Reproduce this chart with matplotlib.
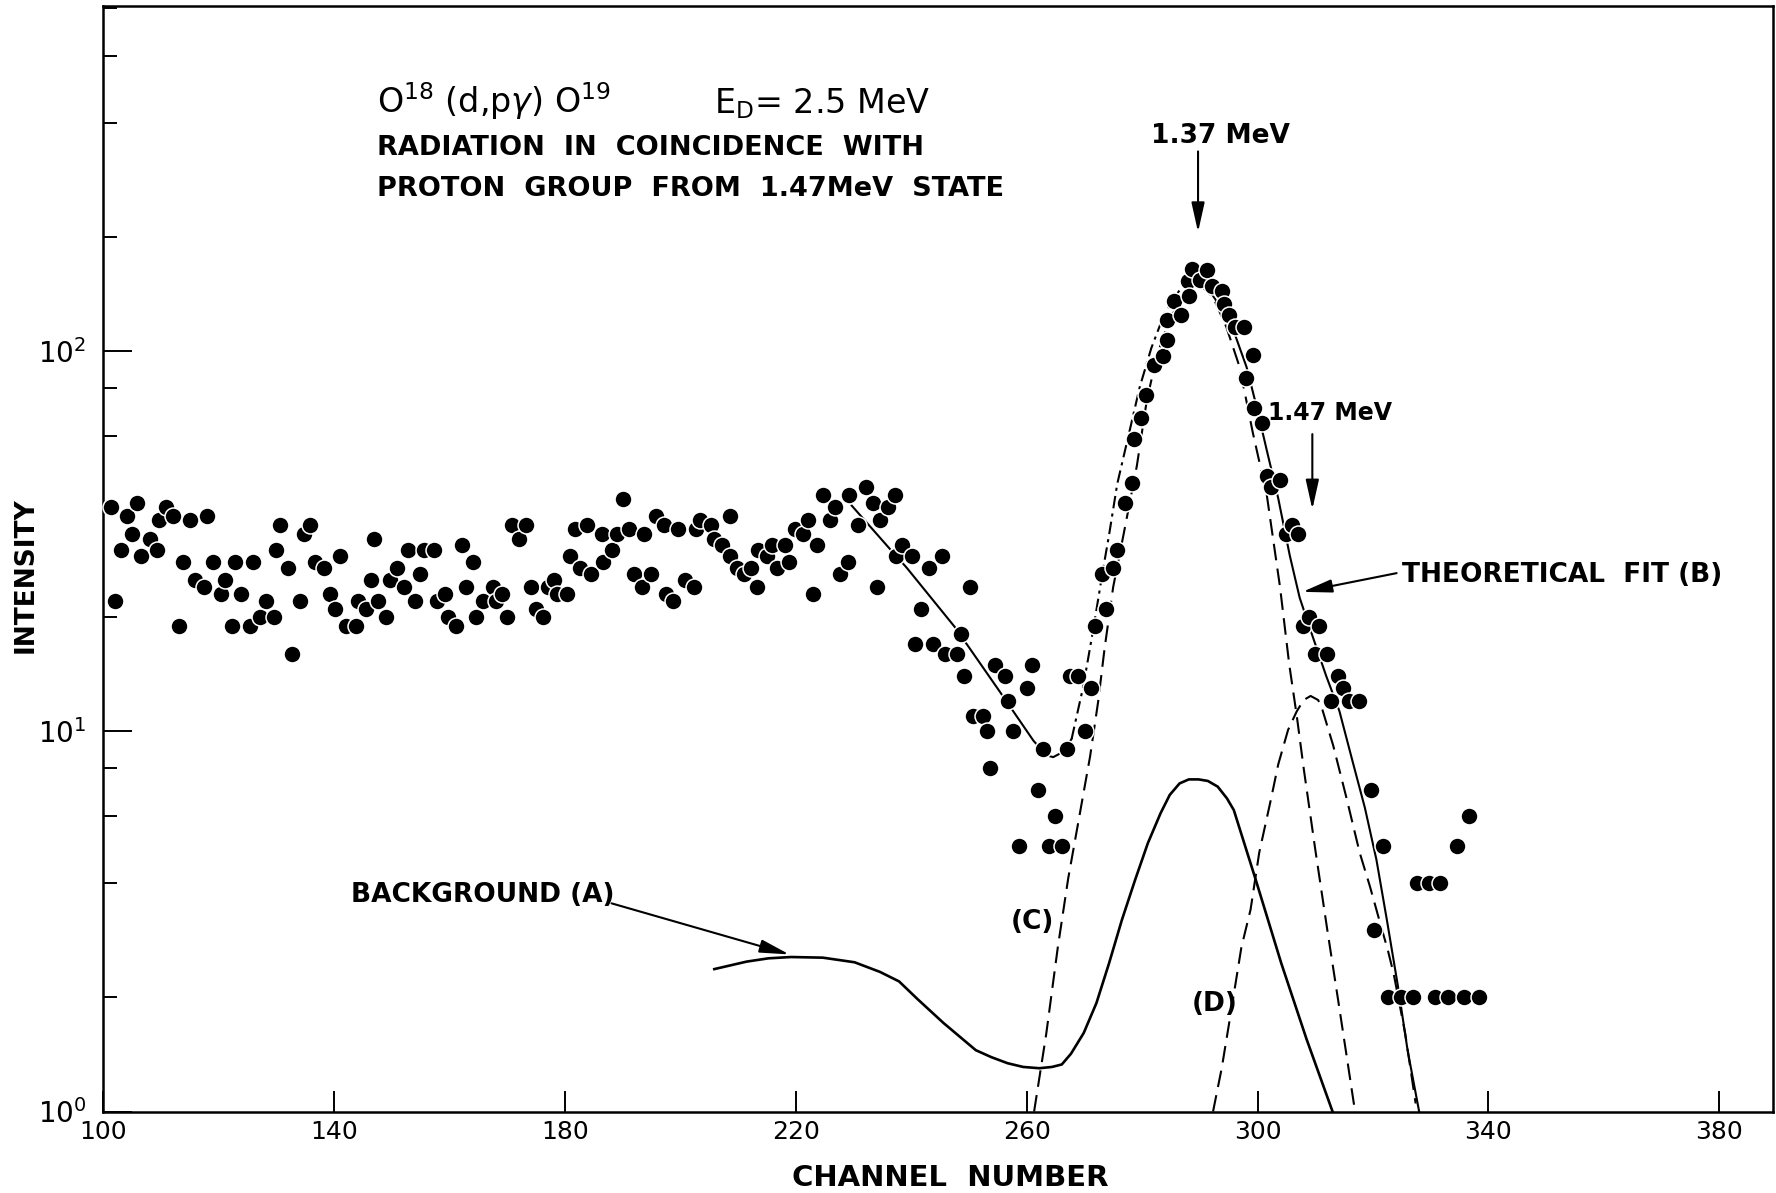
import matplotlib
matplotlib.use("Agg")
import matplotlib.pyplot as plt
from matplotlib.ticker import FixedLocator, FixedFormatter, LogLocator, NullFormatter

channel = [
    101.3, 102.1, 103.2, 104.1, 105.1, 105.9, 106.6, 108.1, 109.3, 109.7,
    110.9, 112.1, 113.2, 113.8, 115.0, 115.9, 117.5, 118.0, 119.1, 120.4,
    121.2, 122.3, 122.9, 123.9, 125.4, 126.0, 127.2, 128.2, 129.6, 130.0,
    130.6, 132.0, 132.8, 134.1, 134.9, 135.8, 136.8, 138.2, 139.3, 140.2,
    141.0, 142.1, 143.9, 144.2, 145.5, 146.4, 147.0, 147.7, 149.0, 149.8,
    150.9, 152.2, 152.9, 154.1, 154.9, 155.6, 157.4, 157.8, 159.2, 159.7,
    161.2, 162.2, 162.9, 164.1, 164.7, 165.8, 167.6, 168.1, 169.2, 169.9,
    170.9, 172.0, 173.3, 174.1, 175.0, 176.2, 177.1, 178.2, 178.7, 180.4,
    180.9, 181.8, 182.6, 183.9, 184.5, 186.4, 186.7, 188.2, 189.1, 190.0,
    191.1, 192.0, 193.3, 193.8, 194.9, 195.8, 197.2, 197.6, 198.8, 199.6,
    200.8, 202.4, 202.8, 203.5, 205.4, 205.8, 207.3, 208.6, 208.7, 209.9,
    211.1, 212.2, 213.3, 213.5, 215.1, 215.9, 216.8, 218.1, 218.9, 219.9,
    221.2, 222.1, 223.0, 223.7, 224.7, 225.9, 226.8, 227.7, 229.0, 229.3,
    230.8, 232.1, 233.4, 234.0, 234.6, 236.0, 237.2, 237.3, 238.5, 240.1,
    240.6, 241.7, 243.1, 243.8, 245.4, 245.8, 247.9, 248.6, 249.1, 250.2,
    250.8, 252.5, 253.1, 253.7, 254.5, 256.2, 256.8, 257.7, 260.0, 261.0,
    262.9, 267.0, 262.0, 264.9, 258.6, 263.8, 266.2, 270.2, 267.6, 268.9,
    271.2, 271.8, 273.8, 273.0, 274.9, 275.7, 277.1, 278.3, 278.6, 279.8,
    280.6, 282.0, 283.6, 284.4, 284.4, 285.5, 286.8, 288.0, 288.1, 288.7,
    290.0, 291.3, 292.2, 293.8, 294.2, 295.0, 296.1, 297.7, 298.0, 299.2,
    299.4, 300.8, 301.6, 302.4, 303.9, 304.9, 306.0, 307.0, 307.9, 309.0,
    310.7, 309.9, 312.1, 313.9, 314.8, 312.7, 315.9, 317.6, 319.7, 320.2,
    321.8, 322.6, 324.8, 326.9, 327.7, 329.7, 331.7, 330.8, 333.0, 334.5,
    335.8, 336.7, 338.4,
]
counts = [
    39, 22, 30, 37, 33, 40, 29, 32, 30, 36,
    39, 37, 19, 28, 36, 25, 24, 37, 28, 23,
    25, 19, 28, 23, 19, 28, 20, 22, 20, 30,
    35, 27, 16, 22, 33, 35, 28, 27, 23, 21,
    29, 19, 19, 22, 21, 25, 32, 22, 20, 25,
    27, 24, 30, 22, 26, 30, 30, 22, 23, 20,
    19, 31, 24, 28, 20, 22, 24, 22, 23, 20,
    35, 32, 35, 24, 21, 20, 24, 25, 23, 23,
    29, 34, 27, 35, 26, 33, 28, 30, 33, 41,
    34, 26, 24, 33, 26, 37, 35, 23, 22, 34,
    25, 24, 34, 36, 35, 32, 31, 29, 37, 27,
    26, 27, 24, 30, 29, 31, 27, 31, 28, 34,
    33, 36, 23, 31, 42, 36, 39, 26, 28, 42,
    35, 44, 40, 24, 36, 39, 42, 29, 31, 29,
    17, 21, 27, 17, 29, 16, 16, 18, 14, 24,
    11, 11, 10, 8, 15, 14, 12, 10, 13, 15,
    9, 9, 7, 6, 5, 5, 5, 10, 14, 14,
    13, 19, 21, 26, 27, 30, 40, 45, 59, 67,
    77, 92, 97, 107, 121, 136, 125, 153, 140, 165,
    154, 164, 149, 144, 133, 125, 116, 116, 85, 98,
    71, 65, 47, 44, 46, 33, 35, 33, 19, 20,
    19, 16, 16, 14, 13, 12, 12, 12, 7, 3,
    5, 2, 2, 2, 4, 4, 4, 2, 2, 5,
    2, 6, 2,
]

# background curve (A)
bg_ch = [205.9, 211.5, 215.3, 219.2, 224.7, 230.2, 234.6, 237.9, 241.2, 245.6,
         251.2, 253.9, 256.7, 259.4, 262.2, 264.4, 266.1, 267.7, 269.9, 272.1,
         274.3, 276.5, 278.8, 281.0, 283.2, 284.8, 286.5, 288.1, 289.8, 291.4,
         293.1, 294.7, 295.9, 299.7, 304.1, 308.5, 313.0]
bg_val = [2.37, 2.48, 2.53, 2.55, 2.54, 2.47, 2.33, 2.20, 1.97, 1.71,
          1.45, 1.39, 1.34, 1.31, 1.30, 1.31, 1.33, 1.42, 1.61, 1.93,
          2.46, 3.19, 4.07, 5.08, 6.09, 6.81, 7.30, 7.48, 7.48, 7.41,
          7.16, 6.67, 6.21, 4.07, 2.46, 1.55, 1.0]

# theoretical fit (B), three drawn pieces
fit1_ch = [229.7, 236.5, 239.2, 247.6, 255.4, 261.2, 263.5, 264.6, 266.3, 267.8]
fit1_val = [39.3, 30.0, 27.0, 18.8, 12.7, 9.45, 8.65, 8.56, 8.83, 9.56]
fit2_ch = [267.8, 269.8, 271.5, 273.3, 274.3, 275.7, 277.7, 279.6, 281.6, 283.9,
           286.5, 289.4, 290.5]
fit2_val = [9.56, 13.1, 18.4, 27.0, 33.0, 44.8, 60.5, 80.6, 102, 126,
            145, 153, 152]
fit3_ch = [290.5, 292.3, 294.0, 295.8, 298.1, 299.8, 301.6, 303.6, 305.6, 307.3,
           309.6, 311.9, 314.2, 316.6, 318.6, 320.6, 322.4, 324.3, 326.0, 328.0]
fit3_val = [152, 140, 128, 114, 91, 72, 55, 41, 29, 22.5,
            17.7, 14.0, 11.3, 8.2, 6.3, 4.6, 3.2, 2.15, 1.45, 1.0]

# 1.37 MeV line (C)
c_ch = [261.3, 263.4, 265.4, 267.2, 268.8, 271.0, 272.4, 273.5, 275.0, 276.8,
        279.1, 280.8, 282.6, 284.9, 287.8, 290.0, 292.3, 294.6, 296.9, 299.2,
        301.6, 303.9, 305.5, 306.8, 308.0, 310.0, 312.1, 314.0, 315.6, 316.9]
c_val = [1.0, 1.6, 2.7, 4.1, 5.6, 8.6, 12.0, 16.5, 24, 33,
         50, 74, 98, 123, 143, 150, 139, 116, 91, 61,
         42, 24, 15, 11, 8.0, 4.9, 3.0, 1.95, 1.35, 1.0]

# 1.47 MeV line (D)
d_ch = [292.3, 293.8, 295.2, 297.2, 298.8, 300.3, 302.3, 303.6, 305.3, 306.8,
        308.0, 309.2, 310.5, 311.1, 313.1, 315.4, 317.7, 319.5, 321.2, 322.6,
        323.6, 325.6, 327.4]
d_val = [1.0, 1.3, 1.75, 2.7, 3.4, 4.8, 6.6, 8.2, 10.1, 11.3,
         12.1, 12.4, 12.1, 11.6, 9.2, 6.7, 4.8, 3.9, 3.15, 2.65,
         2.3, 1.6, 1.05]

x_ticks = [100, 140, 180, 220, 260, 300, 340, 380]
y_major = [1, 10, 100]
y_labels = ["$10^0$", "$10^1$", "$10^2$"]

fig = plt.figure(figsize=(17.76, 11.93), dpi=100)
ax = fig.add_axes([0.058, 0.0683, 0.9403, 0.9267])

dash = (0, (8, 4))
ax.plot(bg_ch, bg_val, color="k", lw=1.9, zorder=2)
ax.plot(fit1_ch, fit1_val, color="k", lw=1.5, zorder=2)
ax.plot(fit2_ch, fit2_val, color="k", lw=1.5, ls=(0, (6, 2.5, 1.5, 2.5)), zorder=2)
ax.plot(fit3_ch, fit3_val, color="k", lw=1.5, zorder=2)
ax.plot(c_ch, c_val, color="k", lw=1.5, ls=dash, zorder=2)
ax.plot(d_ch, d_val, color="k", lw=1.5, ls=dash, zorder=2)

ax.plot(channel, counts, "o", ms=12.2, mfc="k", mec="white", mew=1.1,
        ls="none", zorder=3, clip_on=False)

ax.set_xlim(100, 389.3)
ax.set_yscale("log")
ax.set_ylim(1, 811)

for s in ax.spines.values():
    s.set_linewidth(1.8)

ax.set_xticks(x_ticks)
ax.set_xticklabels([str(t) for t in x_ticks])
ax.yaxis.set_major_locator(FixedLocator(y_major))
ax.yaxis.set_major_formatter(FixedFormatter(y_labels))
ax.yaxis.set_minor_locator(LogLocator(base=10, subs=(2, 4, 6, 8)))
ax.yaxis.set_minor_formatter(NullFormatter())
ax.tick_params(axis="x", direction="in", length=15, width=1.4, pad=6, labelsize=18)
ax.tick_params(axis="y", which="major", direction="in", length=21, width=1.4,
               pad=12, labelsize=20)
ax.tick_params(axis="y", which="minor", direction="in", length=10, width=1.4)

# header text
ax.text(147.5, 423, r"O$^{18}$ (d,p$\gamma$) O$^{19}$", fontsize=24, va="baseline")
ax.text(205.8, 423, r"E$_{\mathrm{D}}$= 2.5 MeV", fontsize=24, va="baseline")
ax.text(147.5, 328, "RADIATION  IN  COINCIDENCE  WITH", fontsize=19.5,
        fontweight="bold", va="baseline")
ax.text(147.5, 256, "PROTON  GROUP  FROM  1.47MeV  STATE", fontsize=19.5,
        fontweight="bold", va="baseline")

# labels and arrows
head = "-|>,head_length=0.9,head_width=0.2"
ax.text(293.5, 354, "1.37 MeV", fontsize=19, fontweight="bold", ha="center", va="baseline")
ax.annotate("", xy=(289.7, 206), xytext=(289.7, 336),
            arrowprops=dict(arrowstyle=head, color="k", lw=1.5, mutation_scale=20,
                            shrinkA=0, shrinkB=0))
ax.text(301.8, 66.2, "1.47 MeV", fontsize=17, fontweight="bold", va="baseline")
ax.annotate("", xy=(309.5, 38.4), xytext=(309.5, 60.6),
            arrowprops=dict(arrowstyle=head, color="k", lw=1.5, mutation_scale=20,
                            shrinkA=0, shrinkB=0))
ax.text(325.0, 24.8, "THEORETICAL  FIT (B)", fontsize=19, fontweight="bold", va="baseline")
ax.annotate("", xy=(307.8, 23.3), xytext=(324.1, 26.1),
            arrowprops=dict(arrowstyle=head, color="k", lw=1.5, mutation_scale=20,
                            shrinkA=0, shrinkB=0))
ax.text(142.9, 3.56, "BACKGROUND (A)", fontsize=19, fontweight="bold", va="baseline")
ax.annotate("", xy=(218.9, 2.59), xytext=(188.1, 3.53),
            arrowprops=dict(arrowstyle=head, color="k", lw=1.5, mutation_scale=20,
                            shrinkA=0, shrinkB=0))
ax.text(257.3, 3.02, "(C)", fontsize=19, fontweight="bold", va="baseline")
ax.text(288.6, 1.84, "(D)", fontsize=19, fontweight="bold", va="baseline")

fig.text(950 / 1776, 1 - 1178 / 1193, "CHANNEL  NUMBER", fontsize=21,
         fontweight="bold", ha="center", va="center")
fig.text(26 / 1776, 1 - 575 / 1193, "INTENSITY", fontsize=19, fontweight="bold",
         rotation=90, ha="center", va="center")

fig.savefig("out.png", dpi=100)
